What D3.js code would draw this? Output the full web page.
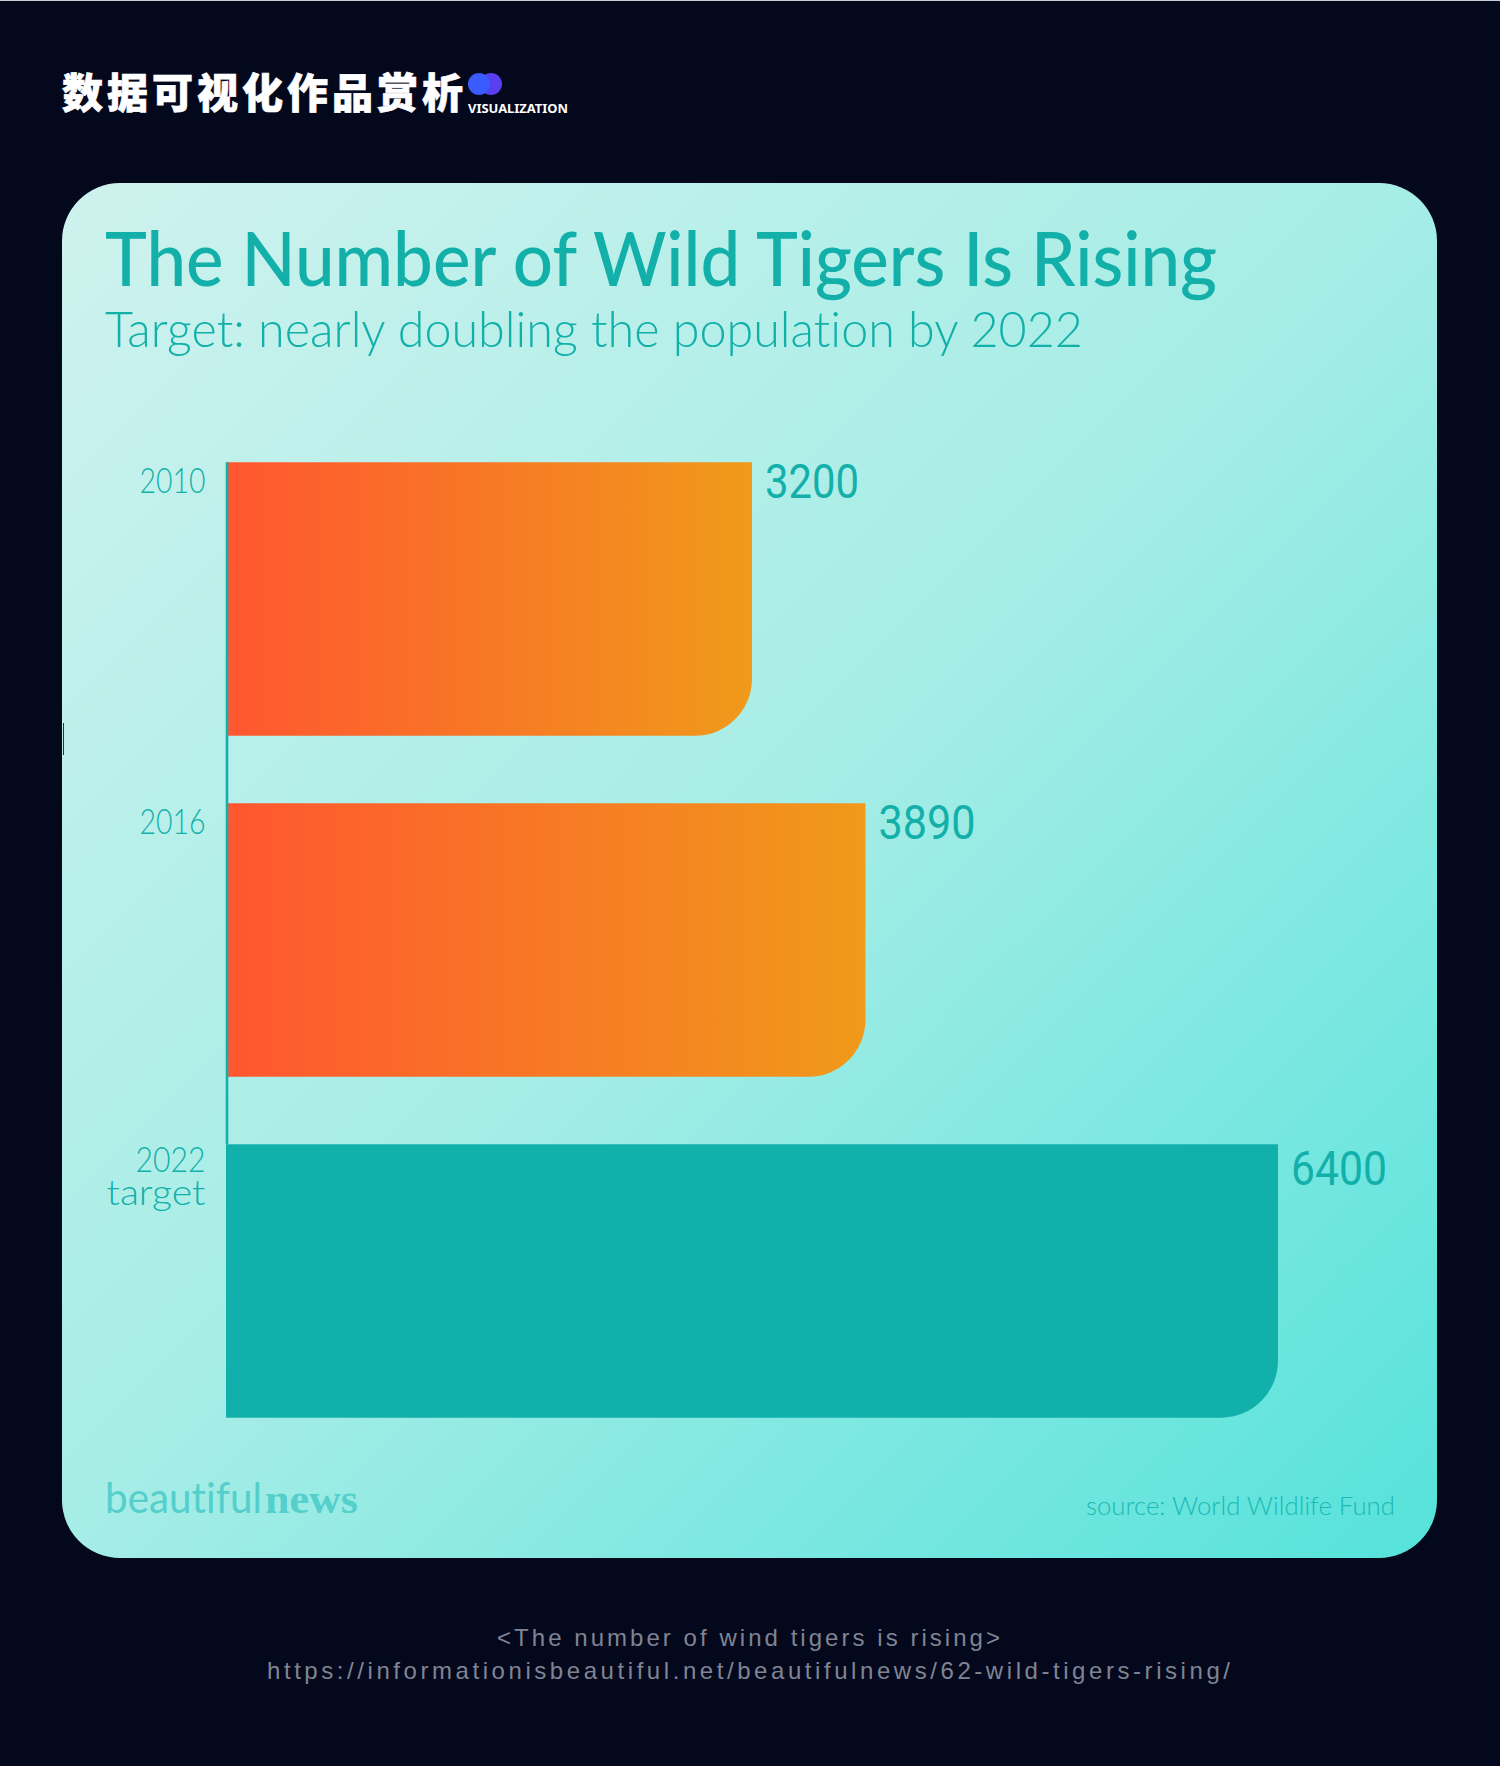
<!DOCTYPE html>
<html lang="zh-CN">
  <head>
    <meta charset="utf-8">
    <title>The Number of Wild Tigers Is Rising</title>
    <script src="https://d3js.org/d3.v7.min.js"></script>
    <style>
      html, body { margin: 0; padding: 0; background: #04081d; }
      svg { display: block; }
      text { font-variant-ligatures: none; }
      .teal { fill: #13b0aa; }
    </style>
  </head>
  <body>
    <svg id="chart" width="1500" height="1766"></svg>
<script>

// data
var categories = ["2010", "2016", "2022"];
var values = [3200, 3890, 6400];
var tickLines = [["2010"], ["2016"], ["2022", "target"]];
var barKinds = ["actual", "actual", "target"];

var svg = d3.select("#chart");
var defs = svg.append("defs");

// card background, runs corner to corner
var cardGrad = defs.append("linearGradient")
  .attr("id", "cardGrad")
  .attr("gradientUnits", "userSpaceOnUse")
  .attr("x1", 62).attr("y1", 183)
  .attr("x2", 1437).attr("y2", 1558);
cardGrad.append("stop").attr("offset", 0).attr("stop-color", "#cff2ee");
cardGrad.append("stop").attr("offset", 0.5).attr("stop-color", "#a5ede6");
cardGrad.append("stop").attr("offset", 0.8).attr("stop-color", "#74e7e0");
cardGrad.append("stop").attr("offset", 1).attr("stop-color", "#55e2da");

var barGrad = defs.append("linearGradient").attr("id", "barGrad");
barGrad.append("stop").attr("offset", 0).attr("stop-color", "#ff5630");
barGrad.append("stop").attr("offset", 1).attr("stop-color", "#f09a1a");

// thin light line along the top edge of the image
svg.append("rect").attr("width", 1500).attr("height", 1).attr("fill", "#c9ccd4");

// header
svg.append("text")
  .attr("x", 62).attr("y", 108)
  .attr("font-family", "'Noto Sans CJK SC'")
  .attr("font-weight", 900)
  .attr("font-size", 41)
  .attr("textLength", 401)
  .attr("fill", "#fff")
  .attr("stroke", "#fff")
  .attr("stroke-width", 0.7)
  .text("数据可视化作品赏析");
svg.append("circle").attr("cx", 491).attr("cy", 84).attr("r", 11).attr("fill", "#5a3ff0");
svg.append("circle").attr("cx", 479).attr("cy", 84).attr("r", 11).attr("fill", "#3a5cff");
svg.append("text")
  .attr("x", 468).attr("y", 113)
  .attr("font-family", "'Noto Sans'")
  .attr("font-weight", 700)
  .attr("font-size", 13)
  .attr("textLength", 100)
  .attr("lengthAdjust", "spacingAndGlyphs")
  .attr("fill", "#fff")
  .text("VISUALIZATION");

// card
svg.append("rect")
  .attr("x", 62).attr("y", 183)
  .attr("width", 1375).attr("height", 1375)
  .attr("rx", 58)
  .attr("fill", "url(#cardGrad)");
svg.append("rect")
  .attr("x", 63).attr("y", 723)
  .attr("width", 1).attr("height", 32)
  .attr("fill", "#1a3a4a");

// titles
svg.append("text")
  .attr("class", "teal")
  .attr("x", 105).attr("y", 286)
  .attr("font-family", "Lato")
  .attr("font-weight", 500)
  .attr("font-size", 75)
  .attr("textLength", 1112)
  .attr("lengthAdjust", "spacingAndGlyphs")
  .text("The Number of Wild Tigers Is Rising");
svg.append("text")
  .attr("class", "teal")
  .attr("x", 105).attr("y", 347)
  .attr("font-family", "Lato")
  .attr("font-weight", 300)
  .attr("font-size", 49)
  .attr("textLength", 978)
  .attr("lengthAdjust", "spacingAndGlyphs")
  .text("Target: nearly doubling the population by 2022");

// scales
var x = d3.scaleLinear().domain([0, 6400]).range([226, 1278]);
var y = d3.scaleBand().domain(categories).range([462.3, 1417.7]).paddingInner(0.198).paddingOuter(0);
var cornerR = 57;

// bars, square except the bottom right corner
function barPath(d, i) {
  var x0 = x(0), x1 = x(d), y0 = y(categories[i]), y1 = y0 + y.bandwidth();
  return "M" + x0 + "," + y0 + "H" + x1 + "V" + (y1 - cornerR) +
    "A" + cornerR + "," + cornerR + " 0 0 1 " + (x1 - cornerR) + "," + y1 + "H" + x0 + "Z";
}

svg.append("g").selectAll("path")
  .data(values)
  .join("path")
  .attr("d", barPath)
  .attr("fill", function (d, i) { return barKinds[i] === "target" ? "#12b0aa" : "url(#barGrad)"; });

// value labels, squeezed to the width of the original digits
var valueWidths = [94, 97, 96];
svg.append("g").selectAll("text")
  .data(values)
  .join("text")
  .attr("class", "teal")
  .attr("x", function (d) { return x(d) + 13; })
  .attr("y", function (d, i) { return y(categories[i]) + (i === 2 ? 41 : 35.5); })
  .attr("font-family", "Roboto")
  .attr("font-size", 48)
  .attr("textLength", function (d, i) { return valueWidths[i]; })
  .attr("lengthAdjust", "spacingAndGlyphs")
  .text(function (d) { return d; });

// axis with the year labels sitting at the top of each band
var axis = d3.axisLeft(y).tickSize(0).tickPadding(21);
var axisG = svg.append("g")
  .attr("transform", "translate(" + x(0) + ",0)")
  .call(axis);
axisG.select(".domain")
  .attr("stroke", "#13b0aa")
  .attr("stroke-width", 2.6)
  .attr("transform", "translate(1,0)")
  .attr("d", "M0," + y.range()[0] + "V" + y(categories[2]));
axisG.selectAll(".tick").attr("transform", function (d) { return "translate(0," + y(d) + ")"; });

var tickWidths = { "2010": 66, "2016": 66, "2022": 70, "target": 99 };
axisG.selectAll(".tick text")
  .attr("class", "teal")
  .attr("fill", null)
  .attr("dy", null)
  .attr("font-family", "Lato")
  .attr("font-weight", 300)
  .attr("font-size", 36)
  .each(function (d, i) {
    var t = d3.select(this).text(null);
    tickLines[i].forEach(function (line, k) {
      t.append("tspan")
        .attr("x", -20.5)
        .attr("y", (i === 2 ? 28 : 30.7) + k * 33)
        .attr("textLength", tickWidths[line])
        .attr("lengthAdjust", "spacingAndGlyphs")
        .text(line);
    });
  });

// footer of the card
var logo = svg.append("text")
  .attr("x", 105).attr("y", 1513)
  .attr("fill", "#55cfcb");
logo.append("tspan")
  .attr("font-family", "Lato")
  .attr("font-weight", 400)
  .attr("font-size", 42)
  .attr("textLength", 157)
  .attr("lengthAdjust", "spacingAndGlyphs")
  .text("beautiful");
logo.append("tspan")
  .attr("font-family", "'Liberation Serif'")
  .attr("font-weight", 700)
  .attr("font-size", 42)
  .attr("dx", 3)
  .attr("textLength", 93)
  .attr("lengthAdjust", "spacingAndGlyphs")
  .text("news");

svg.append("text")
  .attr("x", 1086).attr("y", 1515)
  .attr("font-family", "Lato")
  .attr("font-weight", 300)
  .attr("font-size", 26)
  .attr("textLength", 309)
  .attr("lengthAdjust", "spacingAndGlyphs")
  .attr("fill", "#1cb9b3")
  .text("source: World Wildlife Fund");

// caption under the card
svg.append("text")
  .attr("x", 497).attr("y", 1646)
  .attr("font-family", "'Liberation Sans'")
  .attr("font-size", 24)
  .attr("textLength", 503)
  .attr("fill", "#808492")
  .text("<The number of wind tigers is rising>");
svg.append("text")
  .attr("x", 267).attr("y", 1679)
  .attr("font-family", "'Liberation Sans'")
  .attr("font-size", 24)
  .attr("textLength", 963)
  .attr("fill", "#808492")
  .text("https://informationisbeautiful.net/beautifulnews/62-wild-tigers-rising/");

</script>
  </body>
</html>
